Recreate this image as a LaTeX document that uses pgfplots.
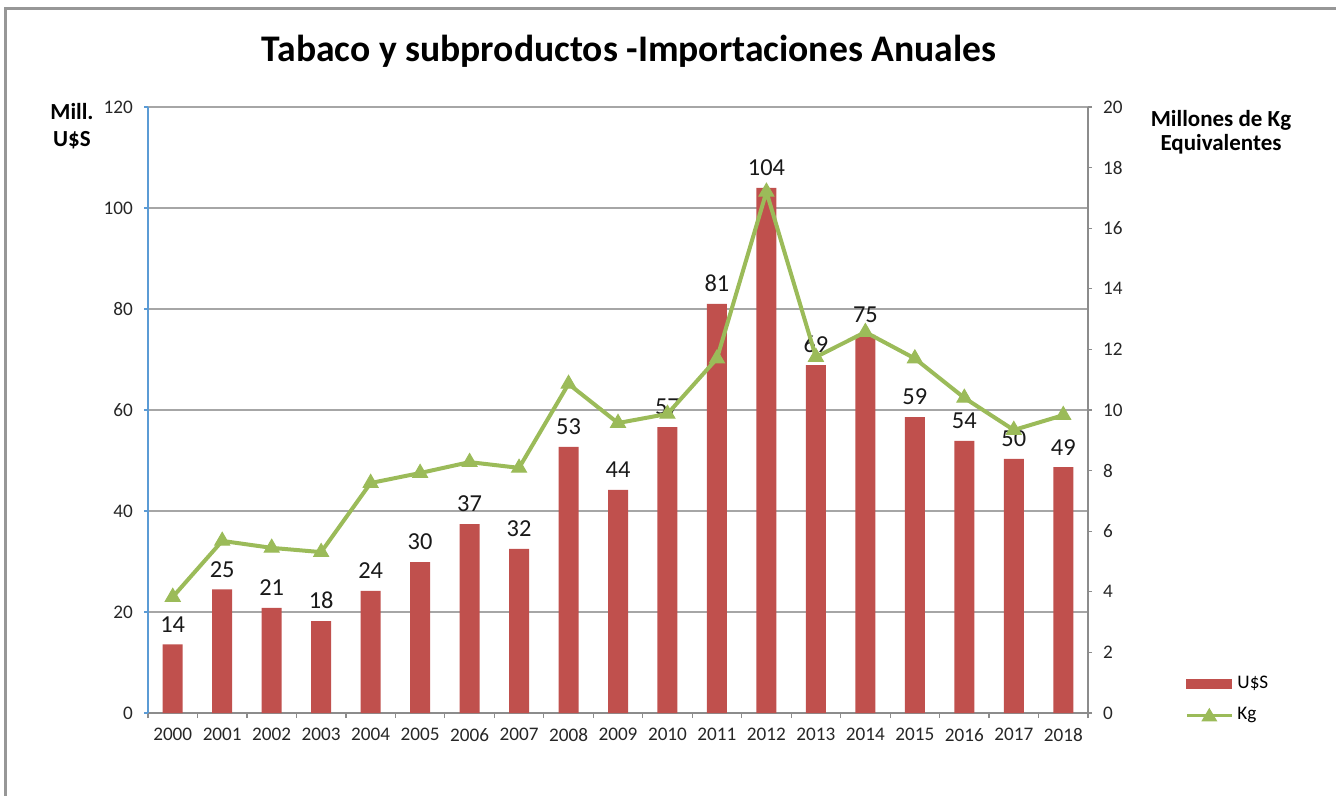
\documentclass[border=0pt]{standalone}
\usepackage{pgfplots}
\pgfplotsset{compat=1.18}
\usepackage{fontspec}
\setmainfont{Carlito}
\definecolor{barred}{HTML}{C0504D}
\definecolor{kggreen}{HTML}{9BBB59}
\definecolor{axblue}{HTML}{5B9BD5}
\definecolor{gridgray}{HTML}{A6A6A6}
\definecolor{axgray}{HTML}{8C8C8C}
\begin{document}
\begin{tikzpicture}
\path[use as bounding box] (0pt,0pt) rectangle (668pt,-398pt);
\draw[color=axgray!90, line width=1.5pt] (2.5pt,-398pt) -- (2.5pt,-4.5pt) -- (668pt,-4.5pt);
\node[font=\fontsize{18.8}{22}\selectfont\bfseries] at (314.5pt,-25.5pt) {Tabaco y subproductos -Importaciones Anuales};
\node[font=\fontsize{11.5}{13.5}\selectfont\bfseries, align=center] at (36pt,-63pt) {Mill.\\U\$S};
\node[font=\fontsize{11.5}{12}\selectfont\bfseries, align=center] at (610.5pt,-66pt) {Millones de Kg\\Equivalentes};
\begin{axis}[
  at={(74pt,-356.5pt)}, anchor=south west,
  scale only axis, width=470pt, height=303pt,
  xmin=-0.5, xmax=18.5, ymin=0, ymax=120,
  axis x line*=bottom, axis y line*=left,
  x axis line style={draw=axgray, line width=0.8pt, -},
  y axis line style={draw=axblue, line width=0.8pt, -},
  xtick={0,...,18},
  xticklabels={2000,2001,2002,2003,2004,2005,2006,2007,2008,2009,2010,2011,2012,2013,2014,2015,2016,2017,2018},
  major x tick style={draw=none},
  minor xtick={-0.5,0.5,...,18.5},
  minor x tick style={draw=axgray, line width=0.6pt},
  minor tick length=2.5pt,
  ytick={0,20,...,120},
  y tick style={draw=axblue, line width=0.6pt},
  major tick length=2pt,
  tick align=outside,
  ymajorgrids, grid style={draw=gridgray, line width=0.6pt},
  /pgf/number format/assume math mode=true,
  tick label style={font=\fontsize{9.6}{11}\selectfont, color=black!85},
  xticklabel style={yshift=-2pt},
  yticklabel style={xshift=-2pt},
]
\addplot[ybar, bar width=10pt, fill=barred, draw=none,
  point meta=explicit symbolic,
  nodes near coords,
  every node near coord/.append style={font=\fontsize{12.2}{14}\selectfont, color=black!90, yshift=2.5pt}]
coordinates {
(0,13.6)[14] (1,24.5)[25] (2,20.8)[21] (3,18.2)[18] (4,24.2)[24]
(5,29.9)[30] (6,37.4)[37] (7,32.5)[32] (8,52.7)[53] (9,44.2)[44]
(10,56.6)[57] (11,81.0)[81] (12,104.0)[104] (13,68.9)[69] (14,74.9)[75]
(15,58.6)[59] (16,53.9)[54] (17,50.3)[50] (18,48.7)[49]
};
\end{axis}
\begin{axis}[
  at={(74pt,-356.5pt)}, anchor=south west,
  scale only axis, width=470pt, height=303pt,
  xmin=-0.5, xmax=18.5, ymin=0, ymax=20,
  axis x line=none, axis y line*=right,
  y axis line style={draw=axgray, line width=0.8pt, -},
  ytick={0,2,...,20},
  y tick style={draw=axgray, line width=0.6pt},
  major tick length=2pt, tick align=outside,
  /pgf/number format/assume math mode=true,
  tick label style={font=\fontsize{9.6}{11}\selectfont, color=black!85},
  yticklabel style={xshift=2pt},
  legend style={at={(1.103,0.068)}, anchor=north west, draw=none, fill=none,
    font=\fontsize{9.6}{11}\selectfont, row sep=4pt, inner sep=0pt},
  legend cell align=left,
]
\addlegendimage{legend image code/.code={\fill[barred] (0pt,-2.25pt) rectangle (22.5pt,2.25pt);}}
\addlegendentry{U\$S}
\addplot[color=kggreen, line width=2pt, mark=triangle*, mark size=4.3pt,
  mark options={solid, fill=kggreen, draw=kggreen, line width=0.5pt},
  legend image code/.code={\draw[kggreen, line width=1.6pt] (0pt,0pt) -- (22.5pt,0pt);
    \fill[kggreen] (9pt,-2pt) -- (13.5pt,-2pt) -- (11.25pt,1.8pt) -- cycle;}]
coordinates {
(0,3.83) (1,5.68) (2,5.45) (3,5.31) (4,7.59) (5,7.92) (6,8.28) (7,8.09)
(8,10.86) (9,9.57) (10,9.87) (11,11.7) (12,17.2) (13,11.75) (14,12.57)
(15,11.7) (16,10.4) (17,9.34) (18,9.83)
};
\addlegendentry{Kg}
\end{axis}
\end{tikzpicture}
\end{document}
